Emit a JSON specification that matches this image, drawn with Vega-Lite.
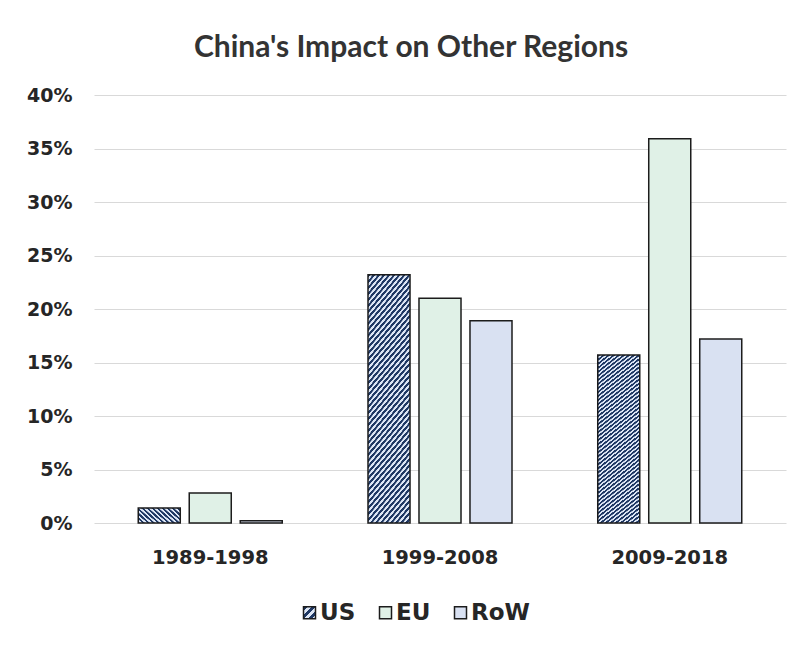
{
  "$schema": "https://vega.github.io/schema/vega-lite/v6.json",
  "width": 692,
  "height": 428,
  "autosize": "none",
  "padding": {"left": 94, "top": 95, "right": 15, "bottom": 123},
  "background": "white",
  "title": {
    "text": "China's Impact on Other Regions",
    "font": "Lato",
    "fontSize": 30,
    "fontWeight": "bold",
    "color": "#333333",
    "anchor": "middle",
    "dx": -29,
    "offset": 23
  },
  "data": {
    "values": [
      {"period": "1989-1998", "region": "US", "share": 0.014},
      {"period": "1989-1998", "region": "EU", "share": 0.028},
      {"period": "1989-1998", "region": "RoW", "share": 0.002},
      {"period": "1999-2008", "region": "US", "share": 0.232},
      {"period": "1999-2008", "region": "EU", "share": 0.210},
      {"period": "1999-2008", "region": "RoW", "share": 0.189},
      {"period": "2009-2018", "region": "US", "share": 0.157},
      {"period": "2009-2018", "region": "EU", "share": 0.359},
      {"period": "2009-2018", "region": "RoW", "share": 0.172}
    ]
  },
  "mark": {"type": "bar", "stroke": "#1c1c1c", "strokeWidth": 1.5},
  "encoding": {
    "x": {
      "field": "period",
      "type": "nominal",
      "sort": null,
      "scale": {"paddingInner": 0.3732, "paddingOuter": 0.1926},
      "axis": {
        "title": null,
        "labelAngle": 0,
        "domain": false,
        "ticks": false,
        "labelFont": "DejaVu Sans",
        "labelFontSize": 19.5,
        "labelFontWeight": "bold",
        "labelColor": "#262626",
        "labelPadding": 25
      }
    },
    "xOffset": {
      "field": "region",
      "type": "nominal",
      "sort": ["US", "EU", "RoW"],
      "scale": {"paddingInner": 0.176, "paddingOuter": 0}
    },
    "y": {
      "field": "share",
      "type": "quantitative",
      "scale": {"domain": [0, 0.4], "nice": false},
      "axis": {
        "title": null,
        "format": ".0%",
        "values": [0, 0.05, 0.1, 0.15, 0.2, 0.25, 0.3, 0.35, 0.4],
        "domain": false,
        "ticks": false,
        "grid": true,
        "gridColor": "#d9d9d9",
        "gridWidth": 1.2,
        "labelFont": "DejaVu Sans",
        "labelFontSize": 19,
        "labelFontWeight": "bold",
        "labelColor": "#262626",
        "labelPadding": 22
      }
    },
    "fill": {
      "condition": {
        "test": "datum.region === 'US'",
        "value": {
          "gradient": "linear",
          "x1": 0, "y1": 0, "x2": 0.2308, "y2": 1.1538,
          "stops": [
            {"offset": 0.000, "color": "#1f3864"}, {"offset": 0.009, "color": "#1f3864"}, {"offset": 0.011, "color": "#dde6f5"}, {"offset": 0.019, "color": "#dde6f5"},
            {"offset": 0.020, "color": "#1f3864"}, {"offset": 0.029, "color": "#1f3864"}, {"offset": 0.031, "color": "#dde6f5"}, {"offset": 0.039, "color": "#dde6f5"},
            {"offset": 0.040, "color": "#1f3864"}, {"offset": 0.049, "color": "#1f3864"}, {"offset": 0.051, "color": "#dde6f5"}, {"offset": 0.059, "color": "#dde6f5"},
            {"offset": 0.060, "color": "#1f3864"}, {"offset": 0.069, "color": "#1f3864"}, {"offset": 0.071, "color": "#dde6f5"}, {"offset": 0.079, "color": "#dde6f5"},
            {"offset": 0.080, "color": "#1f3864"}, {"offset": 0.089, "color": "#1f3864"}, {"offset": 0.091, "color": "#dde6f5"}, {"offset": 0.099, "color": "#dde6f5"},
            {"offset": 0.100, "color": "#1f3864"}, {"offset": 0.109, "color": "#1f3864"}, {"offset": 0.111, "color": "#dde6f5"}, {"offset": 0.119, "color": "#dde6f5"},
            {"offset": 0.120, "color": "#1f3864"}, {"offset": 0.129, "color": "#1f3864"}, {"offset": 0.131, "color": "#dde6f5"}, {"offset": 0.139, "color": "#dde6f5"},
            {"offset": 0.140, "color": "#1f3864"}, {"offset": 0.149, "color": "#1f3864"}, {"offset": 0.151, "color": "#dde6f5"}, {"offset": 0.159, "color": "#dde6f5"},
            {"offset": 0.160, "color": "#1f3864"}, {"offset": 0.169, "color": "#1f3864"}, {"offset": 0.171, "color": "#dde6f5"}, {"offset": 0.179, "color": "#dde6f5"},
            {"offset": 0.180, "color": "#1f3864"}, {"offset": 0.189, "color": "#1f3864"}, {"offset": 0.191, "color": "#dde6f5"}, {"offset": 0.199, "color": "#dde6f5"},
            {"offset": 0.200, "color": "#1f3864"}, {"offset": 0.209, "color": "#1f3864"}, {"offset": 0.211, "color": "#dde6f5"}, {"offset": 0.219, "color": "#dde6f5"},
            {"offset": 0.220, "color": "#1f3864"}, {"offset": 0.229, "color": "#1f3864"}, {"offset": 0.231, "color": "#dde6f5"}, {"offset": 0.239, "color": "#dde6f5"},
            {"offset": 0.240, "color": "#1f3864"}, {"offset": 0.249, "color": "#1f3864"}, {"offset": 0.251, "color": "#dde6f5"}, {"offset": 0.259, "color": "#dde6f5"},
            {"offset": 0.260, "color": "#1f3864"}, {"offset": 0.269, "color": "#1f3864"}, {"offset": 0.271, "color": "#dde6f5"}, {"offset": 0.279, "color": "#dde6f5"},
            {"offset": 0.280, "color": "#1f3864"}, {"offset": 0.289, "color": "#1f3864"}, {"offset": 0.291, "color": "#dde6f5"}, {"offset": 0.299, "color": "#dde6f5"},
            {"offset": 0.300, "color": "#1f3864"}, {"offset": 0.309, "color": "#1f3864"}, {"offset": 0.311, "color": "#dde6f5"}, {"offset": 0.319, "color": "#dde6f5"},
            {"offset": 0.320, "color": "#1f3864"}, {"offset": 0.329, "color": "#1f3864"}, {"offset": 0.331, "color": "#dde6f5"}, {"offset": 0.339, "color": "#dde6f5"},
            {"offset": 0.340, "color": "#1f3864"}, {"offset": 0.349, "color": "#1f3864"}, {"offset": 0.351, "color": "#dde6f5"}, {"offset": 0.359, "color": "#dde6f5"},
            {"offset": 0.360, "color": "#1f3864"}, {"offset": 0.369, "color": "#1f3864"}, {"offset": 0.371, "color": "#dde6f5"}, {"offset": 0.379, "color": "#dde6f5"},
            {"offset": 0.380, "color": "#1f3864"}, {"offset": 0.389, "color": "#1f3864"}, {"offset": 0.391, "color": "#dde6f5"}, {"offset": 0.399, "color": "#dde6f5"},
            {"offset": 0.400, "color": "#1f3864"}, {"offset": 0.409, "color": "#1f3864"}, {"offset": 0.411, "color": "#dde6f5"}, {"offset": 0.419, "color": "#dde6f5"},
            {"offset": 0.420, "color": "#1f3864"}, {"offset": 0.429, "color": "#1f3864"}, {"offset": 0.431, "color": "#dde6f5"}, {"offset": 0.439, "color": "#dde6f5"},
            {"offset": 0.440, "color": "#1f3864"}, {"offset": 0.449, "color": "#1f3864"}, {"offset": 0.451, "color": "#dde6f5"}, {"offset": 0.459, "color": "#dde6f5"},
            {"offset": 0.460, "color": "#1f3864"}, {"offset": 0.469, "color": "#1f3864"}, {"offset": 0.471, "color": "#dde6f5"}, {"offset": 0.479, "color": "#dde6f5"},
            {"offset": 0.480, "color": "#1f3864"}, {"offset": 0.489, "color": "#1f3864"}, {"offset": 0.491, "color": "#dde6f5"}, {"offset": 0.499, "color": "#dde6f5"},
            {"offset": 0.500, "color": "#1f3864"}, {"offset": 0.509, "color": "#1f3864"}, {"offset": 0.511, "color": "#dde6f5"}, {"offset": 0.519, "color": "#dde6f5"},
            {"offset": 0.520, "color": "#1f3864"}, {"offset": 0.529, "color": "#1f3864"}, {"offset": 0.531, "color": "#dde6f5"}, {"offset": 0.539, "color": "#dde6f5"},
            {"offset": 0.540, "color": "#1f3864"}, {"offset": 0.549, "color": "#1f3864"}, {"offset": 0.551, "color": "#dde6f5"}, {"offset": 0.559, "color": "#dde6f5"},
            {"offset": 0.560, "color": "#1f3864"}, {"offset": 0.569, "color": "#1f3864"}, {"offset": 0.571, "color": "#dde6f5"}, {"offset": 0.579, "color": "#dde6f5"},
            {"offset": 0.580, "color": "#1f3864"}, {"offset": 0.589, "color": "#1f3864"}, {"offset": 0.591, "color": "#dde6f5"}, {"offset": 0.599, "color": "#dde6f5"},
            {"offset": 0.600, "color": "#1f3864"}, {"offset": 0.609, "color": "#1f3864"}, {"offset": 0.611, "color": "#dde6f5"}, {"offset": 0.619, "color": "#dde6f5"},
            {"offset": 0.620, "color": "#1f3864"}, {"offset": 0.629, "color": "#1f3864"}, {"offset": 0.631, "color": "#dde6f5"}, {"offset": 0.639, "color": "#dde6f5"},
            {"offset": 0.640, "color": "#1f3864"}, {"offset": 0.649, "color": "#1f3864"}, {"offset": 0.651, "color": "#dde6f5"}, {"offset": 0.659, "color": "#dde6f5"},
            {"offset": 0.660, "color": "#1f3864"}, {"offset": 0.669, "color": "#1f3864"}, {"offset": 0.671, "color": "#dde6f5"}, {"offset": 0.679, "color": "#dde6f5"},
            {"offset": 0.680, "color": "#1f3864"}, {"offset": 0.689, "color": "#1f3864"}, {"offset": 0.691, "color": "#dde6f5"}, {"offset": 0.699, "color": "#dde6f5"},
            {"offset": 0.700, "color": "#1f3864"}, {"offset": 0.709, "color": "#1f3864"}, {"offset": 0.711, "color": "#dde6f5"}, {"offset": 0.719, "color": "#dde6f5"},
            {"offset": 0.720, "color": "#1f3864"}, {"offset": 0.729, "color": "#1f3864"}, {"offset": 0.731, "color": "#dde6f5"}, {"offset": 0.739, "color": "#dde6f5"},
            {"offset": 0.740, "color": "#1f3864"}, {"offset": 0.749, "color": "#1f3864"}, {"offset": 0.751, "color": "#dde6f5"}, {"offset": 0.759, "color": "#dde6f5"},
            {"offset": 0.760, "color": "#1f3864"}, {"offset": 0.769, "color": "#1f3864"}, {"offset": 0.771, "color": "#dde6f5"}, {"offset": 0.779, "color": "#dde6f5"},
            {"offset": 0.780, "color": "#1f3864"}, {"offset": 0.789, "color": "#1f3864"}, {"offset": 0.791, "color": "#dde6f5"}, {"offset": 0.799, "color": "#dde6f5"},
            {"offset": 0.800, "color": "#1f3864"}, {"offset": 0.809, "color": "#1f3864"}, {"offset": 0.811, "color": "#dde6f5"}, {"offset": 0.819, "color": "#dde6f5"},
            {"offset": 0.820, "color": "#1f3864"}, {"offset": 0.829, "color": "#1f3864"}, {"offset": 0.831, "color": "#dde6f5"}, {"offset": 0.839, "color": "#dde6f5"},
            {"offset": 0.840, "color": "#1f3864"}, {"offset": 0.849, "color": "#1f3864"}, {"offset": 0.851, "color": "#dde6f5"}, {"offset": 0.859, "color": "#dde6f5"},
            {"offset": 0.860, "color": "#1f3864"}, {"offset": 0.869, "color": "#1f3864"}, {"offset": 0.871, "color": "#dde6f5"}, {"offset": 0.879, "color": "#dde6f5"},
            {"offset": 0.880, "color": "#1f3864"}, {"offset": 0.889, "color": "#1f3864"}, {"offset": 0.891, "color": "#dde6f5"}, {"offset": 0.899, "color": "#dde6f5"},
            {"offset": 0.900, "color": "#1f3864"}, {"offset": 0.909, "color": "#1f3864"}, {"offset": 0.911, "color": "#dde6f5"}, {"offset": 0.919, "color": "#dde6f5"},
            {"offset": 0.920, "color": "#1f3864"}, {"offset": 0.929, "color": "#1f3864"}, {"offset": 0.931, "color": "#dde6f5"}, {"offset": 0.939, "color": "#dde6f5"},
            {"offset": 0.940, "color": "#1f3864"}, {"offset": 0.949, "color": "#1f3864"}, {"offset": 0.951, "color": "#dde6f5"}, {"offset": 0.959, "color": "#dde6f5"},
            {"offset": 0.960, "color": "#1f3864"}, {"offset": 0.969, "color": "#1f3864"}, {"offset": 0.971, "color": "#dde6f5"}, {"offset": 0.979, "color": "#dde6f5"},
            {"offset": 0.980, "color": "#1f3864"}, {"offset": 0.989, "color": "#1f3864"}, {"offset": 0.991, "color": "#dde6f5"}, {"offset": 1.000, "color": "#dde6f5"}
          ]
        }
      },
      "field": "region",
      "type": "nominal",
      "scale": {
        "domain": ["US", "EU", "RoW"],
        "range": [
          {"expr": "{gradient: 'linear', x1: 0, y1: 0, x2: 1, y2: 1, stops: [{offset: 0, color: '#1f3864'}, {offset: 0.17, color: '#1f3864'}, {offset: 0.17, color: '#dde6f5'}, {offset: 0.33, color: '#dde6f5'}, {offset: 0.33, color: '#1f3864'}, {offset: 0.5, color: '#1f3864'}, {offset: 0.5, color: '#dde6f5'}, {offset: 0.67, color: '#dde6f5'}, {offset: 0.67, color: '#1f3864'}, {offset: 0.83, color: '#1f3864'}, {offset: 0.83, color: '#dde6f5'}, {offset: 1, color: '#dde6f5'}]}"},
          "#e0f1e7",
          "#d9e1f2"
        ]
      },
      "legend": {
        "title": null,
        "orient": "none",
        "direction": "horizontal",
        "legendX": 204,
        "legendY": 506,
        "symbolType": "square",
        "symbolSize": 144,
        "symbolStrokeWidth": 1.5,
        "labelFont": "DejaVu Sans",
        "labelFontSize": 23,
        "labelFontWeight": "bold",
        "labelColor": "#262626",
        "labelOffset": -1,
        "columnPadding": 18
      }
    }
  },
  "config": {
    "view": {"stroke": null}
  }
}
